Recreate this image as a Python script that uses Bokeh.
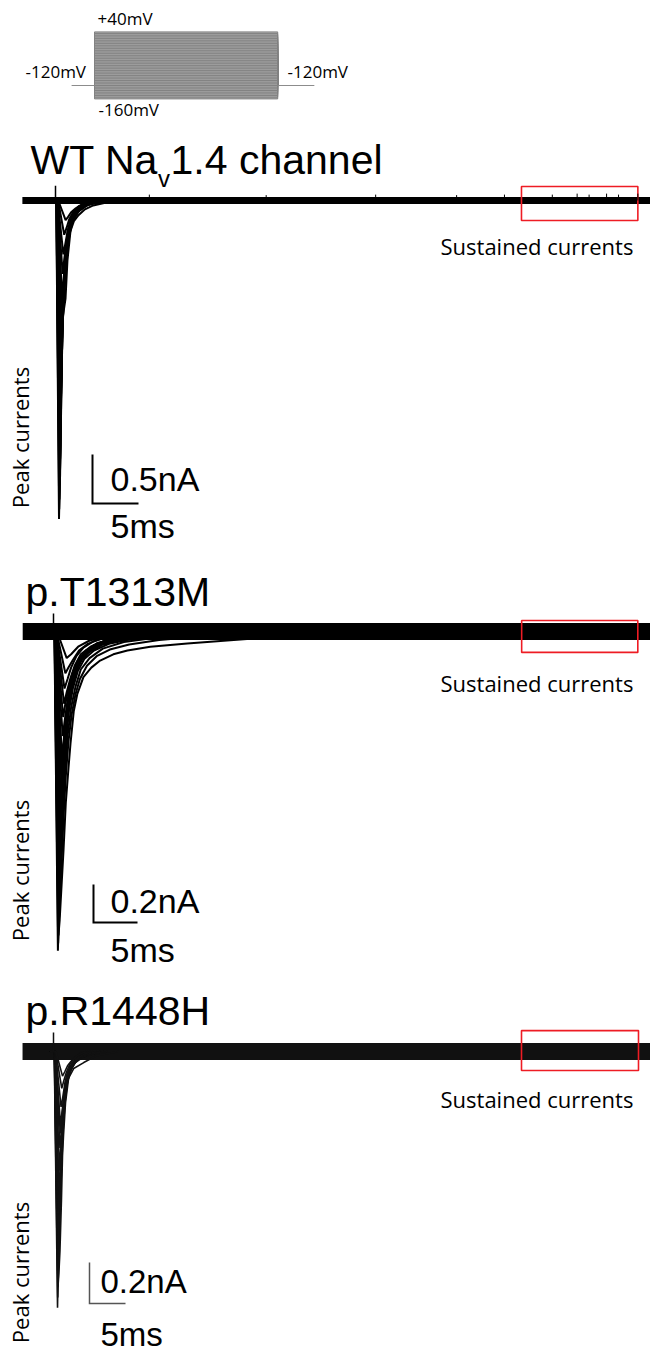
import math
from bokeh.plotting import figure
from bokeh.models import Range1d, Label
from bokeh.layouts import column
from bokeh.embed import file_html
from bokeh.resources import INLINE

# ------------------------------------------------------------------ data
# voltage protocol
protocol_holding_mv = -120
protocol_steps_mv = list(range(-160, 45, 5))
protocol_times_ms = [-5, 0, 40, 48]          # start, step on, step off, end

# scale bars (ms, nA)
wt_bar = [5, 0.5]
t1313_bar = [5, 0.2]
r1448_bar = [5, 0.2]

# recording windows (ms)
wt_record_ms = [-3.6, 64.7]
t1313_record_ms = [-3.5, 67.8]
r1448_record_ms = [-4.3, 82.9]

# capacitive artefact height (nA)
wt_artifact = [0.0, 0.15]
t1313_artifact = [0.0, 0.095]
r1448_artifact = [0.0, 0.093]

# small noise spikes on the WT baseline (ms, nA)
wt_spike_t = [10.2, 22.9, 34.8, 43.6, 48.8, 54.0, 56.7, 58.0, 59.9, 61.2, 63.3]
wt_spike_i = [0.06, 0.055, 0.06, 0.055, 0.06, 0.06, 0.07, 0.06, 0.07, 0.06, 0.07]

# sustained-current windows: t0, t1 (ms), i0, i1 (nA)
wt_sustained = [50.65, 63.3, -0.204, 0.143]
t1313_sustained = [53.2, 66.4, -0.11, 0.058]
r1448_sustained = [65.0, 81.25, -0.093, 0.102]

# sweeps (time ms, current nA)
wt_sweep_t = [
    [-0.5, 0.08, 0.38, 0.46, 0.55, 0.68, 0.85, 1.05, 1.35, 1.8, 2.6, 4.0, 6.0],
    [-0.5, 0.09, 0.40, 0.48, 0.58, 0.72, 0.9, 1.12, 1.42, 1.9, 2.7, 4.2, 6.0],
    [-0.5, 0.10, 0.42, 0.50, 0.60, 0.76, 0.95, 1.2, 1.5, 2.0, 2.9, 4.5, 6.0],
    [-0.5, 0.11, 0.45, 0.53, 0.63, 0.8, 1.0, 1.25, 1.6, 2.1, 3.0, 4.6, 6.5],
    [-0.5, 0.12, 0.47, 0.55, 0.65, 0.76, 0.90, 1.09, 1.3, 1.63, 2.0, 2.5, 3.2, 4.1, 6.0, 8.0],
    [-0.5, 0.14, 0.52, 0.62, 0.75, 0.95, 1.15, 1.4, 1.8, 2.4, 3.4, 5.0, 7.0],
    [-0.5, 0.15, 0.55, 0.66, 0.8, 1.0, 1.22, 1.5, 1.9, 2.6, 3.6, 5.3, 7.5],
    [-0.5, 0.16, 0.58, 0.70, 0.85, 1.05, 1.3, 1.6, 2.1, 2.9, 4.2, 6.0],
    [-0.5, 0.17, 0.62, 0.75, 0.92, 1.15, 1.4, 1.75, 2.3, 3.1, 4.5, 6.5],
    [-0.5, 0.18, 0.66, 0.80, 1.0, 1.25, 1.55, 2.0, 2.7, 3.8, 5.5],
    [-0.5, 0.20, 0.70, 0.85, 1.05, 1.3, 1.6, 2.1, 2.8, 4.0, 6.0],
    [-0.5, 0.20, 0.72, 0.88, 1.1, 1.38, 1.7, 2.2, 2.9, 4.0, 6.0],
    [-0.5, 0.22, 0.78, 0.95, 1.2, 1.5, 1.9, 2.5, 3.5, 5.0],
    [-0.5, 0.24, 0.85, 1.05, 1.3, 1.65, 2.1, 2.8, 3.9, 5.5],
    [-0.5, 0.28, 0.95, 1.2, 1.5, 1.9, 2.5, 3.4, 5.0],
    [-0.5, 0.30, 1.10, 1.35, 1.7, 2.2, 2.9, 4.0, 5.5],
]
wt_sweep_i = [
    [0, 0, -3.25, -2.9, -2.2, -1.5, -0.95, -0.55, -0.3, -0.15, -0.06, 0, 0],
    [0, 0, -3.15, -2.85, -2.1, -1.35, -0.9, -0.52, -0.3, -0.15, -0.06, -0.01, 0],
    [0, 0, -3.05, -2.8, -2.0, -1.2, -0.85, -0.55, -0.32, -0.17, -0.07, -0.01, 0],
    [0, 0, -2.9, -2.6, -1.95, -1.15, -0.8, -0.5, -0.29, -0.15, -0.06, -0.01, 0],
    [0, 0, -2.7, -2.5, -1.9, -1.22, -1.12, -1.0, -0.61, -0.31, -0.21, -0.15, -0.09, -0.05, -0.01, 0],
    [0, 0, -2.3, -1.95, -1.35, -0.9, -0.62, -0.4, -0.22, -0.12, -0.05, -0.01, 0],
    [0, 0, -2.0, -1.7, -1.2, -0.85, -0.58, -0.36, -0.2, -0.1, -0.04, -0.01, 0],
    [0, 0, -1.8, -1.45, -1.0, -0.68, -0.45, -0.27, -0.14, -0.06, -0.01, 0],
    [0, 0, -1.5, -1.2, -0.86, -0.58, -0.38, -0.22, -0.11, -0.05, -0.01, 0],
    [0, 0, -1.25, -1.0, -0.7, -0.45, -0.28, -0.15, -0.07, -0.02, 0],
    [0, 0, -1.1, -0.9, -0.62, -0.42, -0.27, -0.14, -0.06, -0.02, 0],
    [0, 0, -1.0, -0.8, -0.56, -0.37, -0.23, -0.12, -0.05, -0.015, 0],
    [0, 0, -0.75, -0.6, -0.42, -0.27, -0.16, -0.08, -0.03, 0],
    [0, 0, -0.55, -0.45, -0.32, -0.2, -0.12, -0.06, -0.02, 0],
    [0, 0, -0.35, -0.28, -0.19, -0.12, -0.06, -0.02, 0],
    [0, 0, -0.2, -0.17, -0.12, -0.08, -0.04, -0.015, 0],
]

t1313_sweep_t = [
    [-0.5, 0.10, 0.50, 0.60, 0.75, 0.95, 1.2, 1.5, 1.9, 2.4, 3.0, 4.0, 5.5, 8, 12, 18, 26],
    [-0.5, 0.11, 0.53, 0.65, 0.82, 1.05, 1.3, 1.6, 2.0, 2.5, 3.1, 4.1, 5.6, 8, 12, 19, 27],
    [-0.5, 0.12, 0.56, 0.70, 0.90, 1.14, 1.4, 1.7, 1.93, 2.3, 2.7, 3.4, 4.3, 5.3, 6.8, 8.4, 11, 15.2, 22, 30],
    [-0.5, 0.13, 0.58, 0.72, 0.92, 1.15, 1.4, 1.7, 2.05, 2.5, 3.0, 3.8, 4.9, 6.4, 8.6, 12, 17, 24],
    [-0.5, 0.14, 0.60, 0.72, 0.90, 1.1, 1.35, 1.65, 2.0, 2.5, 3.2, 4.2, 5.8, 8, 12, 20],
    [-0.5, 0.15, 0.64, 0.78, 0.96, 1.18, 1.45, 1.78, 2.2, 2.75, 3.5, 4.6, 6.3, 9, 14, 21],
    [-0.5, 0.16, 0.68, 0.82, 1.0, 1.25, 1.55, 1.9, 2.4, 3.0, 3.9, 5.2, 7.5, 11, 18],
    [-0.5, 0.17, 0.73, 0.88, 1.08, 1.33, 1.65, 2.05, 2.6, 3.3, 4.3, 5.9, 8.5, 13, 19],
    [-0.5, 0.18, 0.78, 0.95, 1.15, 1.4, 1.75, 2.2, 2.8, 3.6, 4.8, 6.8, 10, 16],
    [-0.5, 0.19, 0.84, 1.02, 1.25, 1.55, 1.92, 2.45, 3.1, 4.1, 5.5, 7.8, 12, 17],
    [-0.5, 0.20, 0.90, 1.1, 1.35, 1.7, 2.1, 2.7, 3.5, 4.6, 6.3, 9, 14],
    [-0.5, 0.22, 0.95, 1.15, 1.42, 1.8, 2.3, 3.0, 4.0, 5.5, 8, 12],
    [-0.5, 0.22, 0.97, 1.2, 1.48, 1.85, 2.35, 3.0, 4.0, 5.3, 7.5, 11, 15],
    [-0.5, 0.24, 1.05, 1.3, 1.6, 2.0, 2.6, 3.4, 4.5, 6, 9, 13],
    [-0.5, 0.26, 1.10, 1.35, 1.7, 2.15, 2.8, 3.7, 5, 7, 10, 14],
    [-0.5, 0.28, 1.20, 1.5, 1.9, 2.4, 3.1, 4.2, 6, 9, 13],
    [-0.5, 0.30, 1.25, 1.6, 2.0, 2.6, 3.4, 4.6, 6.5, 10],
    [-0.5, 0.34, 1.35, 1.7, 2.2, 2.9, 3.9, 5.3, 7.5, 11],
    [-0.5, 0.40, 1.5, 2.0, 2.8, 4, 6, 9],
]
t1313_sweep_i = [
    [0, 0, -1.68, -1.5, -1.2, -0.9, -0.65, -0.47, -0.33, -0.23, -0.16, -0.11, -0.07, -0.045, -0.025, -0.01, 0],
    [0, 0, -1.64, -1.48, -1.25, -0.98, -0.74, -0.55, -0.4, -0.29, -0.2, -0.14, -0.09, -0.055, -0.03, -0.012, 0],
    [0, 0, -1.6, -1.52, -1.35, -1.15, -0.9, -0.72, -0.59, -0.42, -0.33, -0.24, -0.19, -0.153, -0.12, -0.10, -0.08, -0.063, -0.04, 0],
    [0, 0, -1.55, -1.42, -1.2, -0.97, -0.76, -0.58, -0.44, -0.33, -0.25, -0.18, -0.13, -0.095, -0.068, -0.045, -0.025, 0],
    [0, 0, -1.5, -1.3, -1.02, -0.78, -0.57, -0.42, -0.3, -0.21, -0.14, -0.095, -0.06, -0.035, -0.015, 0],
    [0, 0, -1.4, -1.22, -0.98, -0.75, -0.56, -0.41, -0.3, -0.21, -0.145, -0.1, -0.065, -0.038, -0.018, 0],
    [0, 0, -1.3, -1.1, -0.85, -0.62, -0.45, -0.32, -0.22, -0.15, -0.1, -0.065, -0.035, -0.015, 0],
    [0, 0, -1.18, -1.0, -0.78, -0.58, -0.42, -0.3, -0.21, -0.14, -0.095, -0.06, -0.032, -0.014, 0],
    [0, 0, -1.05, -0.88, -0.68, -0.5, -0.36, -0.25, -0.17, -0.11, -0.07, -0.04, -0.02, 0],
    [0, 0, -0.92, -0.77, -0.59, -0.44, -0.32, -0.22, -0.15, -0.095, -0.06, -0.032, -0.012, 0],
    [0, 0, -0.8, -0.66, -0.5, -0.37, -0.27, -0.18, -0.12, -0.075, -0.045, -0.02, 0],
    [0, 0, -0.72, -0.6, -0.47, -0.34, -0.24, -0.16, -0.1, -0.06, -0.03, 0],
    [0, 0, -0.67, -0.55, -0.43, -0.31, -0.22, -0.15, -0.095, -0.06, -0.03, -0.012, 0],
    [0, 0, -0.55, -0.46, -0.36, -0.26, -0.18, -0.12, -0.075, -0.045, -0.02, 0],
    [0, 0, -0.45, -0.38, -0.3, -0.22, -0.15, -0.1, -0.06, -0.035, -0.015, 0],
    [0, 0, -0.38, -0.32, -0.25, -0.18, -0.12, -0.08, -0.045, -0.02, 0],
    [0, 0, -0.3, -0.25, -0.19, -0.13, -0.085, -0.05, -0.025, 0],
    [0, 0, -0.22, -0.19, -0.15, -0.1, -0.065, -0.04, -0.02, 0],
    [0, 0, -0.14, -0.12, -0.08, -0.05, -0.02, 0],
]

r1448_sweep_t = [
    [-0.5, 0.10, 0.56, 0.65, 0.8, 1.0, 1.2, 1.45, 1.8, 2.3, 3.0, 4.2, 6.5],
    [-0.5, 0.11, 0.59, 0.7, 0.85, 1.05, 1.25, 1.5, 1.85, 2.35, 3.1, 4.4, 7.0],
    [-0.5, 0.12, 0.62, 0.75, 0.9, 1.1, 1.25, 1.39, 1.67, 2.1, 2.8, 4.2, 6.0, 9.0],
    [-0.5, 0.13, 0.65, 0.78, 0.94, 1.15, 1.35, 1.6, 1.95, 2.45, 3.2, 4.6, 7.5],
    [-0.5, 0.14, 0.68, 0.80, 0.98, 1.2, 1.45, 1.8, 2.3, 3.0, 4.2, 6.5],
    [-0.5, 0.15, 0.72, 0.86, 1.04, 1.27, 1.55, 1.9, 2.45, 3.3, 4.8, 7.0],
    [-0.5, 0.16, 0.75, 0.90, 1.1, 1.35, 1.65, 2.05, 2.7, 3.7, 5.5],
    [-0.5, 0.18, 0.8, 0.95, 1.17, 1.45, 1.78, 2.2, 2.9, 4.0, 6.0],
    [-0.5, 0.20, 0.85, 1.0, 1.25, 1.55, 1.9, 2.4, 3.2, 4.6],
    [-0.5, 0.22, 0.9, 1.1, 1.37, 1.7, 2.1, 2.7, 3.6, 5.0],
    [-0.5, 0.24, 0.95, 1.15, 1.42, 1.75, 2.2, 2.8, 3.8, 5.2],
    [-0.5, 0.25, 0.98, 1.2, 1.5, 1.85, 2.3, 3.0, 4.2],
    [-0.5, 0.28, 1.05, 1.3, 1.6, 2.0, 2.6, 3.5, 4.8],
    [-0.5, 0.30, 1.15, 1.45, 1.8, 2.3, 3.0, 4.0],
    [-0.5, 0.34, 1.25, 1.55, 1.95, 2.5, 3.3, 4.5],
]
r1448_sweep_i = [
    [0, 0, -1.25, -1.05, -0.75, -0.5, -0.33, -0.21, -0.12, -0.07, -0.04, -0.015, 0],
    [0, 0, -1.2, -1.05, -0.82, -0.58, -0.4, -0.26, -0.15, -0.085, -0.045, -0.018, 0],
    [0, 0, -1.15, -1.08, -0.97, -0.73, -0.51, -0.41, -0.25, -0.13, -0.083, -0.054, -0.02, 0],
    [0, 0, -1.08, -0.95, -0.75, -0.54, -0.38, -0.25, -0.15, -0.085, -0.045, -0.018, 0],
    [0, 0, -1.0, -0.85, -0.63, -0.44, -0.29, -0.17, -0.1, -0.055, -0.025, 0],
    [0, 0, -0.9, -0.76, -0.56, -0.39, -0.25, -0.15, -0.08, -0.04, -0.015, 0],
    [0, 0, -0.8, -0.66, -0.48, -0.33, -0.21, -0.12, -0.065, -0.03, 0],
    [0, 0, -0.7, -0.58, -0.41, -0.27, -0.17, -0.1, -0.05, -0.02, 0],
    [0, 0, -0.58, -0.48, -0.34, -0.22, -0.14, -0.08, -0.04, 0],
    [0, 0, -0.47, -0.39, -0.27, -0.18, -0.11, -0.06, -0.03, 0],
    [0, 0, -0.4, -0.33, -0.23, -0.15, -0.09, -0.05, -0.02, 0],
    [0, 0, -0.36, -0.29, -0.2, -0.13, -0.08, -0.04, 0],
    [0, 0, -0.27, -0.22, -0.15, -0.1, -0.06, -0.03, 0],
    [0, 0, -0.18, -0.14, -0.1, -0.06, -0.03, 0],
    [0, 0, -0.12, -0.1, -0.07, -0.045, -0.02, 0],
]

titles = ["WT Na", "p.T1313M", "p.R1448H"]

# ------------------------------------------------------------------ layout helpers
W = 650
ARIAL = "Liberation Sans"
SANS = "Open Sans"


class Panel:
    def __init__(self, top, height, x0, sx, yref, sy, ref=0.0):
        self.top, self.h, self.x0, self.sx = top, height, x0, sx
        self.yref, self.sy, self.ref = yref, sy, ref
        self.p = figure(
            width=W, height=height, output_backend="svg", toolbar_location=None,
            x_range=Range1d((0 - x0) / sx, (W - x0) / sx),
            y_range=Range1d(ref + (yref - (top + height)) / sy, ref + (yref - top) / sy),
            x_axis_location=None, y_axis_location=None, min_border=0,
            outline_line_color=None, background_fill_color="white",
            border_fill_color="white",
        )
        self.p.grid.visible = False

    def dx(self, X):
        return (X - self.x0) / self.sx

    def dy(self, Y):
        return self.ref + (self.yref - Y) / self.sy

    def text(self, X, Y, txt, size, font, align="left", baseline="middle",
             angle=0.0, color="black"):
        self.p.add_layout(Label(
            x=self.dx(X), y=self.dy(Y), text=txt, text_font=font,
            text_font_size=f"{size}px", text_align=align, text_baseline=baseline,
            angle=angle, text_color=color))


# ------------------------------------------------------------------ protocol
proto = Panel(top=0, height=130, x0=94, sx=4.58, yref=85, sy=0.335, ref=protocol_holding_mv)
pp = proto.p
t_a, t_on, t_off, t_b = protocol_times_ms
pp.quad(left=[t_on], right=[t_off], bottom=[min(protocol_steps_mv)],
        top=[max(protocol_steps_mv)], fill_color="#a8a8a8", line_color=None)
xs, ys = [], []
for v in protocol_steps_mv:
    xs.append([t_on, t_on, t_off, t_off])
    ys.append([protocol_holding_mv, v, v, protocol_holding_mv])
pp.multi_line(xs, ys, line_color="#828282", line_width=1.0)
pp.line([t_a, t_on], [protocol_holding_mv] * 2, line_color="#8c8c8c", line_width=1.2)
pp.line([t_off, t_b], [protocol_holding_mv] * 2, line_color="#8c8c8c", line_width=1.2)
proto.text(97, 18, "+40mV", 17, SANS)
proto.text(25, 71, "-120mV", 17, SANS)
proto.text(287, 71, "-120mV", 17, SANS)
proto.text(98, 109, "-160mV", 17, SANS)


# ------------------------------------------------------------------ current panels
def current_panel(panel, sweeps_t, sweeps_i, record, band, artifact, sustained, bar,
                  bar_anchor, bar_text_xy, bar_font, peak_label_y, sust_label_y,
                  trace_color="black", sweep_w=1.3, bar_w=2.0, bar_color="black"):
    p = panel.p
    p.line(record, [0, 0], line_color=trace_color, line_width=band, line_cap="butt")
    p.multi_line(sweeps_t, sweeps_i, line_color=trace_color, line_width=sweep_w)
    p.line([artifact[0], artifact[0]], [0, artifact[1]], line_color=trace_color, line_width=1.5)
    t0, t1, i0, i1 = sustained
    p.quad(left=[t0], right=[t1], bottom=[i0], top=[i1], fill_alpha=0,
           line_color="#ee1c24", line_width=1.6)
    bx, by = panel.dx(bar_anchor[0]), panel.dy(bar_anchor[1])
    p.line([bx, bx, bx + bar[0]], [by + bar[1], by, by], line_color=bar_color,
           line_width=bar_w, line_join="miter")
    (ax, ay), (mx, my) = bar_text_xy
    panel.text(ax, ay, f"{bar[1]}nA", bar_font, ARIAL)
    panel.text(mx, my, f"{bar[0]}ms", bar_font, ARIAL)
    panel.text(19, peak_label_y, "Peak currents", 22, SANS, align="center",
               angle=math.pi / 2)
    panel.text(440, sust_label_y, "Sustained currents", 22, SANS)


TS = 41
p1 = Panel(top=130, height=432, x0=55, sx=9.2, yref=200, sy=98)
current_panel(p1, wt_sweep_t, wt_sweep_i, wt_record_ms, 7, wt_artifact, wt_sustained,
              wt_bar, (92, 503), ((110, 478), (110, 525)), 34, 437, 245, sweep_w=2.0)
p1.p.segment(wt_spike_t, [0] * len(wt_spike_t), wt_spike_t, wt_spike_i,
             line_color="black", line_width=1.0)
# title with subscript
p1.text(30, 159, titles[0], TS, ARIAL)
p1.text(30 + 3.111 * TS, 178, "v", 24, ARIAL)
p1.text(30 + 3.111 * TS + 12.5, 159, "1.4 channel", TS, ARIAL)

p2 = Panel(top=562, height=410, x0=53, sx=8.8, yref=631, sy=190)
current_panel(p2, t1313_sweep_t, t1313_sweep_i, t1313_record_ms, 17, t1313_artifact,
              t1313_sustained, t1313_bar, (93, 922), ((110, 900), (110, 949)), 34, 870, 682,
              sweep_w=2.0)
p2.text(25, 591, titles[1], TS, ARIAL)

p3 = Panel(top=972, height=382, x0=53, sx=7.2, yref=1051, sy=205)
current_panel(p3, r1448_sweep_t, r1448_sweep_i, r1448_record_ms, 17, r1448_artifact,
              r1448_sustained, r1448_bar, (89, 1303), ((100, 1281), (100, 1334)), 33, 1272, 1098,
              trace_color="#111111", sweep_w=1.6, bar_w=1.5, bar_color="#555555")
p3.text(25, 1010, titles[2], TS, ARIAL)

layout = column(proto.p, p1.p, p2.p, p3.p, spacing=0)
open("out.html", "w").write(file_html(layout, INLINE))
